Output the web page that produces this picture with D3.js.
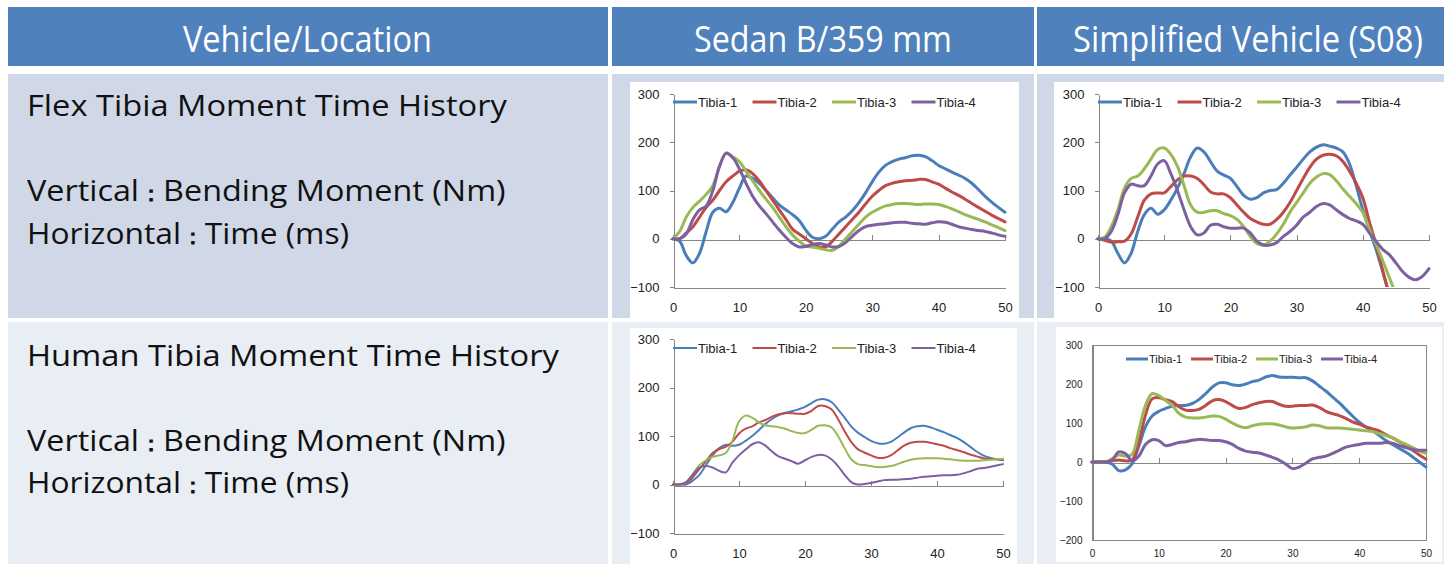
<!DOCTYPE html>
<meta charset="utf-8">
<head>
  <style>
  body { margin: 0; background: #fff; }
  svg { display: block; }
  .cellText { font-family: "Open Sans", sans-serif; }
  .axis text { font-family: "Liberation Sans", Arial, sans-serif; fill: #222; }
  .axis path, .axis line { stroke: #868686; shape-rendering: crispEdges; }
  .legend text { font-family: "Liberation Sans", Arial, sans-serif; fill: #222; }
  </style>
</head>
<body>
<div id="table"></div>
<script src="https://d3js.org/d3.v7.min.js"></script>
<script>

// time axis (ms)
var times = [0,1,2,3,4,5,6,7,8,9,10,11,12,13,14,15,16,17,18,19,20,21,22,23,24,25,
  26,27,28,29,30,31,32,33,34,35,36,37,38,39,40,41,42,43,44,45,46,47,48,49,50];
var seriesNames = ["Tibia-1", "Tibia-2", "Tibia-3", "Tibia-4"];
var xTicks = [0, 10, 20, 30, 40, 50];
var yTicks = [-100, 0, 100, 200, 300];
var yTicksWide = [-200, -100, 0, 100, 200, 300];

var headerLabels = ["Vehicle/Location", "Sedan B/359 mm", "Simplified Vehicle (S08)"];
var flexLabels = ["Flex Tibia Moment Time History", "Vertical\uFF1ABending Moment (Nm)", "Horizontal\uFF1ATime (ms)"];
var humanLabels = ["Human Tibia Moment Time History", "Vertical\uFF1ABending Moment (Nm)", "Horizontal\uFF1ATime (ms)"];

// Flex tibia, Sedan B
var flexSedan1 = [0,-5,-35,-50,-30,15,55,63,56,75,105,130,125,115,100,85,70,60,50,38,18,3,0,5,20,35,45,58,75,95,118,138,152,160,165,168,172,173,170,162,152,145,138,132,125,115,102,88,76,65,55];
var flexSedan2 = [0,0,12,25,45,65,80,100,118,130,140,143,135,120,100,80,60,40,20,10,0,-10,-17,-17,-5,10,25,40,55,72,88,100,110,115,118,120,121,123,123,118,113,105,97,90,82,73,65,57,49,42,35];
var flexSedan3 = [0,15,45,65,78,92,110,150,178,170,160,140,120,100,82,65,45,25,8,-5,-15,-17,-20,-23,-24,-15,0,15,30,45,55,62,68,71,73,73,72,71,72,72,71,67,62,56,50,45,40,35,29,23,17];
var flexSedan4 = [0,0,10,40,60,68,100,150,177,168,145,115,88,68,52,35,18,3,-10,-17,-16,-12,-10,-13,-17,-16,-8,5,17,25,28,30,31,33,34,34,32,31,30,33,35,34,30,25,22,19,17,15,12,8,5];

// Flex tibia, simplified vehicle S08
var flexS081 = [0,0,-5,-30,-50,-30,15,50,63,51,60,80,105,135,170,188,180,160,140,132,125,108,90,82,85,95,100,102,115,132,148,165,180,190,195,192,188,180,155,110,60,18,-22,-68,-115,-160,-195,-220,-235,-245,-250];
var flexS082 = [0,-3,-7,-6,-5,10,45,80,93,95,95,108,122,130,130,125,112,97,93,93,85,70,55,42,35,30,30,40,55,75,100,125,148,165,173,175,172,160,140,115,85,35,-12,-65,-118,-165,-200,-225,-240,-250,-255];
var flexS083 = [0,3,25,60,105,125,130,145,165,185,188,175,150,110,70,55,55,58,58,52,48,40,25,5,-10,-13,-5,10,30,55,75,95,115,128,135,133,120,103,88,73,55,20,-12,-45,-80,-115,-150,-180,-200,-215,-225];
var flexS084 = [0,0,15,50,95,113,110,110,130,155,162,135,100,60,25,8,12,28,30,25,22,22,22,12,-5,-13,-13,-8,5,15,28,45,55,67,73,70,60,50,42,37,30,12,-5,-22,-33,-50,-68,-80,-85,-78,-62];

// Human tibia, Sedan B
var humanSedan1 = [0,0,0,8,20,40,60,75,82,80,82,90,100,112,125,135,143,148,151,155,160,168,175,176,170,155,138,120,107,98,90,85,84,88,97,107,116,120,121,118,113,108,102,96,88,78,68,60,55,52,50];
var humanSedan2 = [0,0,3,15,32,48,65,73,78,88,105,115,120,128,133,140,145,147,147,146,146,152,162,162,155,135,110,88,73,66,60,55,55,60,70,80,86,88,88,86,83,80,75,71,67,62,58,54,52,52,52];
var humanSedan3 = [0,0,5,22,40,50,57,60,65,90,130,142,138,128,122,120,118,115,110,106,106,113,121,122,118,100,75,52,42,40,38,36,36,38,42,47,51,53,54,54,54,53,52,50,49,49,49,50,51,52,53];
var humanSedan4 = [0,0,5,20,35,38,35,28,25,45,60,72,83,87,80,68,58,53,48,43,50,57,61,60,52,38,20,5,0,1,3,6,9,10,10,11,12,14,16,17,18,19,19,20,23,27,32,34,36,39,42];

// Human tibia, simplified vehicle S08
var humanS081 = [0,0,0,-5,-22,-20,-5,40,90,118,130,137,143,145,145,150,160,175,192,203,203,198,196,200,206,210,218,222,218,217,217,216,216,208,195,182,167,152,135,118,102,90,80,68,55,45,35,25,13,0,-13];
var humanS082 = [0,0,0,3,5,3,5,50,120,162,165,160,155,142,133,132,135,145,157,160,155,145,137,140,147,152,155,155,148,143,143,145,145,146,140,130,124,119,112,103,97,90,85,80,70,62,52,42,30,18,7];
var humanS083 = [0,0,0,8,18,15,20,80,145,175,170,158,145,125,115,113,113,115,118,117,110,100,92,88,93,97,98,98,95,90,87,88,90,95,93,88,87,87,86,84,82,80,78,73,68,62,53,45,37,28,22];
var humanS084 = [0,0,0,5,26,22,3,15,45,57,55,42,45,50,52,56,58,57,55,55,52,45,35,28,25,23,18,12,5,-5,-17,-13,-3,8,12,15,22,30,38,42,45,48,48,48,50,48,42,37,32,30,30];

var colors = ["#4A7EBB", "#BE4B48", "#98B954", "#7D60A0"];

var svg = d3.select("#table").append("svg")
  .attr("width", 1444)
  .attr("height", 564);

// table cells
var cells = [
  {x: 8, y: 7, w: 600, h: 59, fill: "#4F81BD"},
  {x: 612, y: 7, w: 422, h: 59, fill: "#4F81BD"},
  {x: 1037, y: 7, w: 407, h: 59, fill: "#4F81BD"},
  {x: 8, y: 74, w: 600, h: 244, fill: "#D0D8E8"},
  {x: 612, y: 74, w: 422, h: 244, fill: "#D0D8E8"},
  {x: 1037, y: 74, w: 407, h: 244, fill: "#D0D8E8"},
  {x: 8, y: 322, w: 600, h: 242, fill: "#E9EDF4"},
  {x: 612, y: 322, w: 422, h: 242, fill: "#E9EDF4"},
  {x: 1037, y: 322, w: 407, h: 242, fill: "#E9EDF4"}
];
svg.selectAll("rect.cell").data(cells).enter().append("rect")
  .attr("class", "cell")
  .attr("x", function(d){ return d.x; })
  .attr("y", function(d){ return d.y; })
  .attr("width", function(d){ return d.w; })
  .attr("height", function(d){ return d.h; })
  .attr("fill", function(d){ return d.fill; });

// big text squeezed horizontally to the width it has in the slide
function fitText(str, x, y, width, size, fill){
  var g = svg.append("g").attr("transform", "translate(" + x + "," + y + ")");
  var t = g.append("text")
    .attr("class", "cellText")
    .attr("font-size", size)
    .attr("fill", fill);
  var parts = str.split("\uFF1A");
  t.append("tspan").text(parts[0]);
  if (parts.length > 1) {
    t.append("tspan").attr("font-size", size * 0.75).attr("font-weight", "bold").text("\uFF1A");
    t.append("tspan").text(parts[1]);
  }
  var natural = t.node().getComputedTextLength();
  t.attr("transform", "scale(" + (width / natural) + ",1)");
}

fitText(headerLabels[0], 183, 52, 249, 36, "#fff");
fitText(headerLabels[1], 694, 52, 258, 36, "#fff");
fitText(headerLabels[2], 1073, 52, 350, 36, "#fff");

var leftYs1 = [116, 201, 244], leftYs2 = [366, 451, 493];
var leftWs1 = [480, 479, 322], leftWs2 = [532, 479, 322];
flexLabels.forEach(function(d, i){ fitText(d, 27, leftYs1[i], leftWs1[i], 29.5, "#111"); });
humanLabels.forEach(function(d, i){ fitText(d, 27, leftYs2[i], leftWs2[i], 29.5, "#111"); });

var chartId = 0;
function drawChart(cfg){
  chartId++;
  var g = svg.append("g");

  g.append("rect")
    .attr("x", cfg.panel[0]).attr("y", cfg.panel[1])
    .attr("width", cfg.panel[2]).attr("height", cfg.panel[3])
    .attr("fill", "#fff");

  var x = d3.scaleLinear().domain([0, 50]).range([cfg.x0, cfg.x1]);
  var y = d3.scaleLinear().domain([cfg.yTicks[0], 300]).range([cfg.yBottom, cfg.yTop]);

  if (cfg.frame) {
    g.append("rect")
      .attr("x", cfg.x0 + 0.5).attr("y", cfg.yTop + 0.5)
      .attr("width", cfg.x1 - cfg.x0).attr("height", cfg.yBottom - cfg.yTop)
      .attr("fill", "none").attr("stroke", "#868686");
  }

  // y axis
  g.append("g")
    .attr("class", "axis")
    .attr("transform", "translate(" + (cfg.x0 + 0.5) + ",0)")
    .call(d3.axisLeft(y).tickValues(cfg.yTicks).tickSize(cfg.frame ? 0 : 4).tickSizeOuter(0).tickPadding(10))
    .selectAll("text").attr("font-size", cfg.font);

  // x labels along the bottom
  var bottomAxis = g.append("g")
    .attr("class", "axis")
    .attr("transform", "translate(0," + (cfg.yBottom + 0.5) + ")")
    .call(d3.axisBottom(x).tickValues(xTicks).tickSize(0).tickSizeOuter(0).tickPadding(cfg.frame ? 9 : 15));
  bottomAxis.selectAll("text").attr("font-size", cfg.font);
  if (cfg.frame) bottomAxis.select(".domain").remove();

  // zero line with tick marks
  g.append("g")
    .attr("class", "axis")
    .attr("transform", "translate(0," + (Math.round(y(0)) + 0.5) + ")")
    .call(d3.axisTop(x).tickValues(xTicks).tickSize(5).tickSizeOuter(0).tickFormat(""));

  // clip
  var clipName = "clip" + chartId;
  g.append("clipPath").attr("id", clipName)
    .append("rect")
    .attr("x", cfg.x0 - 2).attr("y", cfg.yTop - 10)
    .attr("width", cfg.x1 - cfg.x0 + 4).attr("height", cfg.yBottom - cfg.yTop + 10);

  var line = d3.line()
    .x(function(d, i){ return x(times[i]); })
    .y(function(d){ return y(d); })
    .curve(d3.curveCatmullRom.alpha(0.5));

  g.append("g").attr("clip-path", "url(#" + clipName + ")")
    .selectAll("path").data(cfg.series).enter().append("path")
    .attr("d", line)
    .attr("fill", "none")
    .attr("stroke", function(d, i){ return colors[i]; })
    .attr("stroke-width", cfg.lw)
    .attr("stroke-linejoin", "round")
    .attr("stroke-linecap", "round");

  // legend
  var lg = g.append("g").attr("class", "legend");
  var item = lg.selectAll("g").data(seriesNames).enter().append("g")
    .attr("transform", function(d, i){ return "translate(" + (cfg.legX + i * cfg.legStep) + "," + cfg.legY + ")"; });
  item.append("line")
    .attr("x1", 0).attr("x2", cfg.legLen)
    .attr("stroke", function(d, i){ return colors[i]; })
    .attr("stroke-width", cfg.lw);
  item.append("text")
    .attr("x", cfg.legLen + 1)
    .attr("dy", "0.35em")
    .attr("font-size", cfg.legFont)
    .text(function(d){ return d; });
}

drawChart({
  panel: [630, 82, 389, 236],
  x0: 673, x1: 1005, yTop: 94, yBottom: 287, yTicks: yTicks,
  series: [flexSedan1, flexSedan2, flexSedan3, flexSedan4],
  lw: 3, font: 13, legX: 673, legY: 102, legStep: 79.5, legLen: 24, legFont: 13
});
drawChart({
  panel: [1054, 82, 390, 236],
  x0: 1098, x1: 1429, yTop: 94, yBottom: 287, yTicks: yTicks,
  series: [flexS081, flexS082, flexS083, flexS084],
  lw: 3, font: 13, legX: 1098, legY: 102, legStep: 79.5, legLen: 24, legFont: 13
});
drawChart({
  panel: [630, 328, 387, 236],
  x0: 673, x1: 1003, yTop: 339, yBottom: 533, yTicks: yTicks,
  series: [humanSedan1, humanSedan2, humanSedan3, humanSedan4],
  lw: 2, font: 13, legX: 673, legY: 348, legStep: 79.5, legLen: 24, legFont: 13
});
drawChart({
  panel: [1056, 327, 386, 235],
  x0: 1092, x1: 1426, yTop: 345, yBottom: 540, yTicks: yTicksWide, frame: true,
  series: [humanS081, humanS082, humanS083, humanS084],
  lw: 3, font: 10, legX: 1126, legY: 359, legStep: 65, legLen: 22, legFont: 11
});

</script>
</body>
</html>
